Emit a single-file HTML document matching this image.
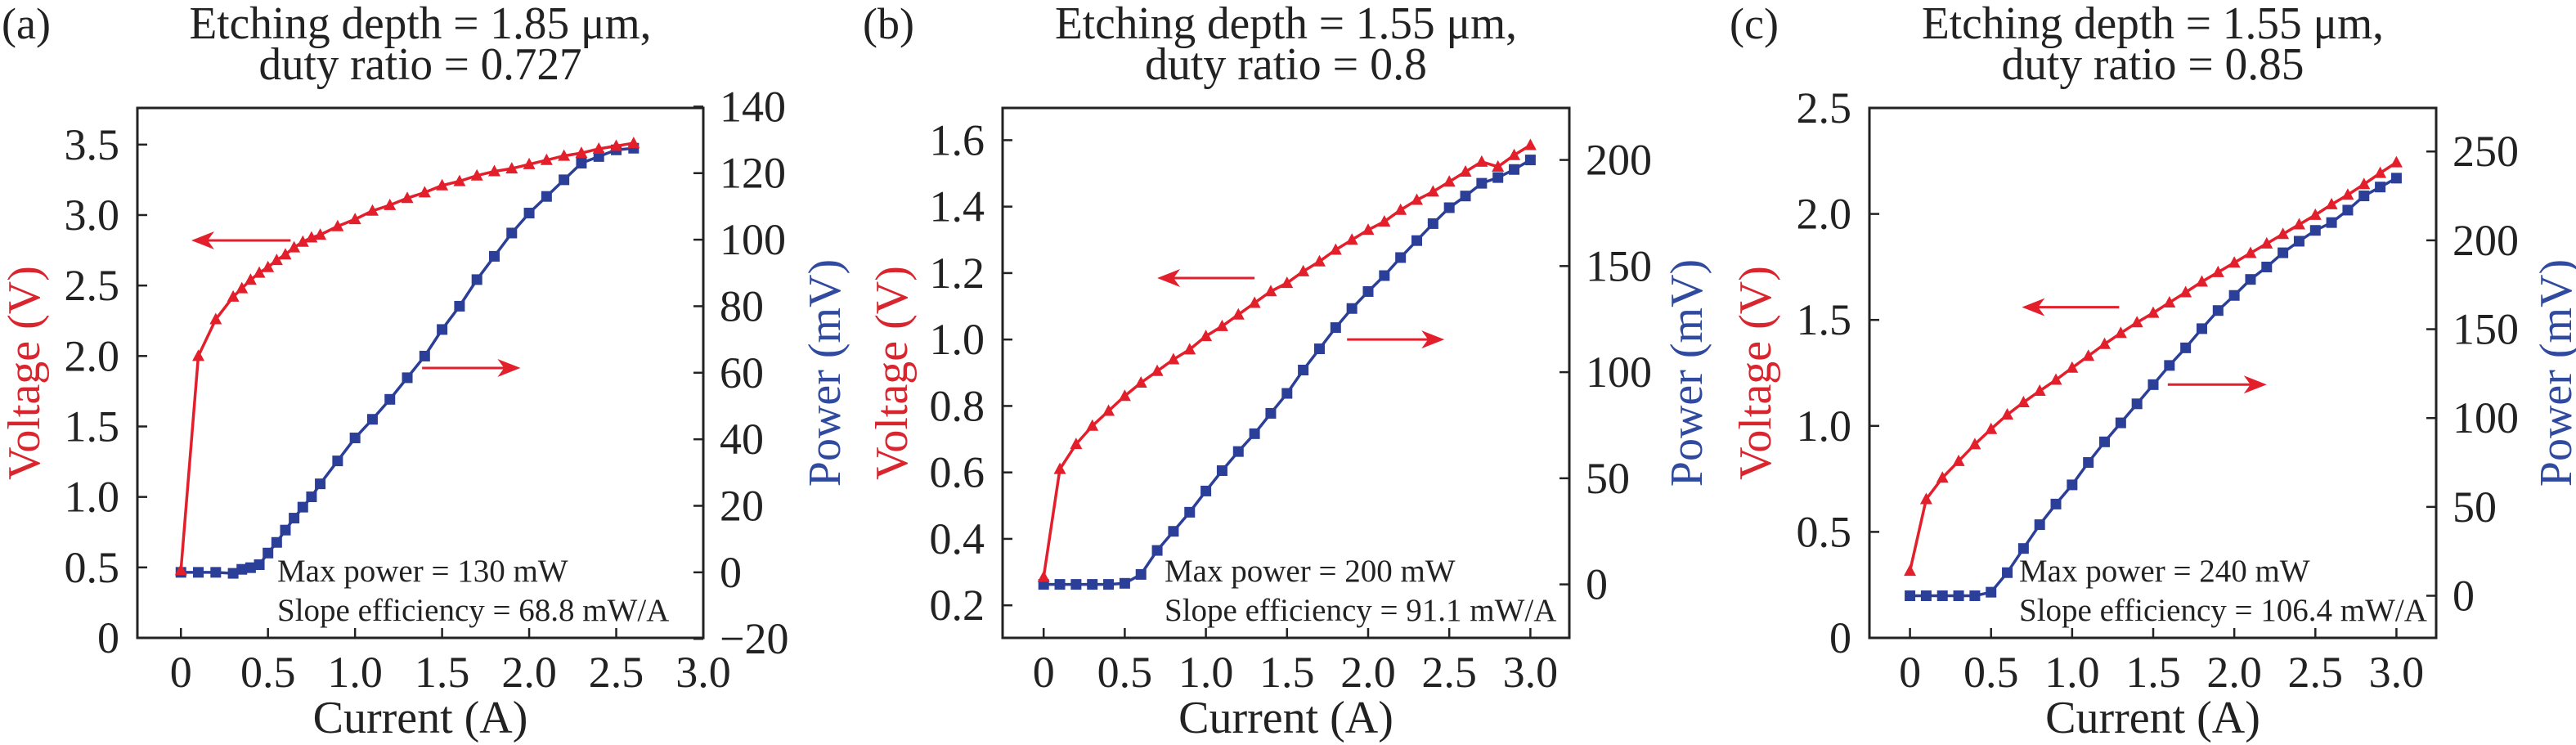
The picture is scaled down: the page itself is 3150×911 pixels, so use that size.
<!DOCTYPE html>
<html><head><meta charset="utf-8"><style>
html,body{margin:0;padding:0;background:#fff;}
svg{display:block;font-family:"Liberation Serif","DejaVu Serif",serif;}
svg text{font-family:"Liberation Serif","DejaVu Serif",serif;}
</style></head><body>
<svg id="fig" width="3150" height="911" viewBox="0 0 3150 911" xmlns="http://www.w3.org/2000/svg" font-family="Liberation Serif, serif"></svg>
<script>
// ---- Panel (a) data ----
const aCurrentV = [0,0.1,0.2,0.3,0.35,0.4,0.45,0.5,0.55,0.6,0.65,0.7,0.75,0.8,0.9,1.0,1.1,1.2,1.3,1.4,1.5,1.6,1.7,1.8,1.9,2.0,2.1,2.2,2.3,2.4,2.5,2.6];
const aVoltage  = [0.48,2.0,2.26,2.42,2.48,2.54,2.59,2.63,2.68,2.72,2.77,2.81,2.84,2.86,2.92,2.97,3.03,3.07,3.12,3.16,3.21,3.24,3.28,3.31,3.33,3.36,3.39,3.42,3.44,3.47,3.49,3.51];
const aCurrentP = [0,0.1,0.2,0.3,0.35,0.4,0.45,0.5,0.55,0.6,0.65,0.7,0.75,0.8,0.9,1.0,1.1,1.2,1.3,1.4,1.5,1.6,1.7,1.8,1.9,2.0,2.1,2.2,2.3,2.4,2.5,2.6];
const aPower    = [0,0,0,-0.3,0.9,1.4,2.3,5.8,9,12.7,16.3,19.6,22.7,26.6,33.5,40.4,46,52,58.5,65,73,80,88,95,102,108,113,118,123,125,127,127.5];
// ---- Panel (b) data ----
const bCurrent = [0,0.1,0.2,0.3,0.4,0.5,0.6,0.7,0.8,0.9,1.0,1.1,1.2,1.3,1.4,1.5,1.6,1.7,1.8,1.9,2.0,2.1,2.2,2.3,2.4,2.5,2.6,2.7,2.8,2.9,3.0];
const bVoltage = [0.285,0.61,0.685,0.74,0.785,0.83,0.87,0.905,0.94,0.97,1.01,1.04,1.075,1.11,1.145,1.17,1.205,1.235,1.27,1.30,1.33,1.355,1.39,1.42,1.445,1.475,1.505,1.535,1.52,1.555,1.585];
const bPower   = [0,0,0,0,0,0.5,4.7,16,25,34,44,53.6,62.6,71,80.6,90,101,111,121,130,138,145.5,154,162,170,177.5,183,189,191.7,195.5,200];
// ---- Panel (c) data ----
const cCurrent = [0,0.1,0.2,0.3,0.4,0.5,0.6,0.7,0.8,0.9,1.0,1.1,1.2,1.3,1.4,1.5,1.6,1.7,1.8,1.9,2.0,2.1,2.2,2.3,2.4,2.5,2.6,2.7,2.8,2.9,3.0];
const cVoltage = [0.316,0.654,0.755,0.834,0.913,0.985,1.053,1.111,1.165,1.217,1.274,1.33,1.386,1.438,1.488,1.533,1.582,1.63,1.68,1.725,1.77,1.815,1.86,1.905,1.95,1.995,2.045,2.09,2.14,2.193,2.243];
const cPower   = [0,0,0,0,0,2,13,26.6,40,51.6,62.4,75,86.6,97.3,108,118.8,129.6,139.5,150.3,160.5,169,178,185,193,199.5,205.6,210,217,225,230,235];
// ---- Tick labels ----
const xTicks = [0,0.5,1.0,1.5,2.0,2.5,3.0];
const xTickLabels = ["0","0.5","1.0","1.5","2.0","2.5","3.0"];
const aLeftTicks = [0,0.5,1.0,1.5,2.0,2.5,3.0,3.5];
const aLeftLabels = ["0","0.5","1.0","1.5","2.0","2.5","3.0","3.5"];
const aRightTicks = [-20,0,20,40,60,80,100,120,140];
const aRightLabels = ["\u221220","0","20","40","60","80","100","120","140"];
const bLeftTicks = [0.2,0.4,0.6,0.8,1.0,1.2,1.4,1.6];
const bLeftLabels = ["0.2","0.4","0.6","0.8","1.0","1.2","1.4","1.6"];
const bRightTicks = [0,50,100,150,200];
const bRightLabels = ["0","50","100","150","200"];
const cLeftTicks = [0,0.5,1.0,1.5,2.0,2.5];
const cLeftLabels = ["0","0.5","1.0","1.5","2.0","2.5"];
const cRightTicks = [0,50,100,150,200,250];
const cRightLabels = ["0","50","100","150","200","250"];

const NS="http://www.w3.org/2000/svg";
const svg=document.getElementById('fig');
const RED="#e21f2b", BLUE="#2b3f98";
const FF="Liberation Serif, DejaVu Serif, serif";
function mk(tag,attrs,parent){const e=document.createElementNS(NS,tag);for(const k in attrs)e.setAttribute(k,attrs[k]);if(tag==='text')e.setAttribute('font-family',FF);(parent||svg).appendChild(e);return e;}

const panels=[
 {id:'a',letter:'(a)',lx:2,title1:'Etching depth = 1.85 \u03bcm,',title2:'duty ratio = 0.727',t2w:395,
  L:168,R:860,xd:[-0.25,3.0],yd:[0,3.76],rd:[-19.7,139.6],
  xV:aCurrentV,V:aVoltage,xP:aCurrentP,P:aPower,lt:aLeftTicks,ll:aLeftLabels,rt:aRightTicks,rl:aRightLabels,
  arrL:[0.63,0.06,2.82],arrR:[1.385,1.95,1.915],ann:[339,'Max power = 130 mW','Slope efficiency = 68.8 mW/A'],vlx:30,plx:1009},
 {id:'b',letter:'(b)',lx:1055,title1:'Etching depth = 1.55 \u03bcm,',title2:'duty ratio = 0.8',t2w:345,
  L:1226,R:1919,xd:[-0.253,3.24],yd:[0.102,1.697],rd:[-25.2,224.5],
  xV:bCurrent,V:bVoltage,xP:bCurrent,P:bPower,lt:bLeftTicks,ll:bLeftLabels,rt:bRightTicks,rl:bRightLabels,
  arrL:[1.30,0.70,1.185],arrR:[1.87,2.47,1.0],ann:[1424,'Max power = 200 mW','Slope efficiency = 91.1 mW/A'],vlx:1091,plx:2063},
 {id:'c',letter:'(c)',lx:2115,title1:'Etching depth = 1.55 \u03bcm,',title2:'duty ratio = 0.85',t2w:370,
  L:2286,R:2979,xd:[-0.25,3.245],yd:[0,2.5],rd:[-23.7,274.5],
  xV:cCurrent,V:cVoltage,xP:cCurrent,P:cPower,lt:cLeftTicks,ll:cLeftLabels,rt:cRightTicks,rl:cRightLabels,
  arrL:[1.29,0.69,1.56],arrR:[1.59,2.20,1.195],ann:[2469,'Max power = 240 mW','Slope efficiency = 106.4 mW/A'],vlx:2147,plx:3126}
];
const T=132,B=780;

panels.forEach(p=>{
  const g=mk('g',{});
  
  
  const sx=v=>p.L+(v-p.xd[0])/(p.xd[1]-p.xd[0])*(p.R-p.L);
  const sy=v=>B-(v-p.yd[0])/(p.yd[1]-p.yd[0])*(B-T);
  const sr=v=>B-(v-p.rd[0])/(p.rd[1]-p.rd[0])*(B-T);
  const cx=(p.L+p.R)/2;
  let t=mk('text',{x:p.lx,y:47,'font-size':54,fill:'#222'},g);t.textContent=p.letter;
  
  
  t=mk('text',{x:cx,y:47,'font-size':56,fill:'#222','text-anchor':'middle',textLength:565,lengthAdjust:'spacingAndGlyphs'},g);t.textContent=p.title1;
  
  
  t=mk('text',{x:cx,y:97,'font-size':56,fill:'#222','text-anchor':'middle',textLength:p.t2w,lengthAdjust:'spacingAndGlyphs'},g);t.textContent=p.title2;
  
  
  // ticks
  xTicks.forEach((v,i)=>{
    const x=sx(v);
    mk('line',{x1:x,x2:x,y1:B,y2:B-12,stroke:'#222','stroke-width':2.5},g);
    const tl=mk('text',{x:x,y:840,'font-size':54,fill:'#222','text-anchor':'middle'},g);tl.textContent=xTickLabels[i];
    
    
  });
  p.lt.forEach((v,i)=>{
    const y=sy(v);
    mk('line',{x1:p.L,x2:p.L+12,y1:y,y2:y,stroke:'#222','stroke-width':2.5},g);
    const tl=mk('text',{x:p.L-22,y:y+18,'font-size':54,fill:'#222','text-anchor':'end'},g);tl.textContent=p.ll[i];
    
    
  });
  p.rt.forEach((v,i)=>{
    const y=sr(v);
    mk('line',{x1:p.R-12,x2:p.R,y1:y,y2:y,stroke:'#222','stroke-width':2.5},g);
    const tl=mk('text',{x:p.R+20,y:y+18,'font-size':54,fill:'#222'},g);tl.textContent=p.rl[i];
    
    
  });
  const box=mk('rect',{x:p.L,y:T,width:p.R-p.L,height:B-T,fill:'none',stroke:'#222','stroke-width':3},g);
  
  
  // axis titles
  t=mk('text',{x:cx,y:896,'font-size':56,fill:'#222','text-anchor':'middle'},g);t.textContent='Current (A)';
  
  
  t=mk('text',{x:0,y:0,'font-size':56,fill:'#d9252e','text-anchor':'middle',transform:`translate(${p.vlx+18},456) rotate(-90)`},g);t.textContent='Voltage (V)';
  
  
  t=mk('text',{x:0,y:0,'font-size':56,fill:'#2f4a9e','text-anchor':'middle',transform:`translate(${p.plx+18},456) rotate(-90)`},g);t.textContent='Power (mV)';
  
  
  // series
  const vp=p.xV.map((x,i)=>sx(x)+','+sy(p.V[i])).join(' ');
  const pp=p.xP.map((x,i)=>sx(x)+','+sr(p.P[i])).join(' ');
  let l=mk('polyline',{points:pp,fill:'none',stroke:BLUE,'stroke-width':3.5},g);
  
  
  p.xP.forEach((x,i)=>{
    const m=mk('rect',{x:sx(x)-6.5,y:sr(p.P[i])-6.5,width:13,height:13,fill:BLUE},g);
    
    
  });
  l=mk('polyline',{points:vp,fill:'none',stroke:RED,'stroke-width':3.5},g);
  
  
  p.xV.forEach((x,i)=>{
    const X=sx(x),Y=sy(p.V[i]);
    const m=mk('polygon',{points:`${X},${Y-8} ${X+7.5},${Y+6} ${X-7.5},${Y+6}`,fill:RED},g);
    
    
  });
  // arrows
  [[p.arrL,'left-arrow'],[p.arrR,'right-arrow']].forEach(([a,n])=>{
    const x1=sx(a[0]),x2=sx(a[1]),y=sy(a[2]);
    const dir=x2>x1?1:-1;
    const ag=mk('g',{},g);
    
    
    mk('line',{x1:x1,x2:x2-dir*20,y1:y,y2:y,stroke:RED,'stroke-width':3},ag);
    mk('polygon',{points:`${x2},${y} ${x2-dir*28},${y-11} ${x2-dir*20},${y} ${x2-dir*28},${y+11}`,fill:RED},ag);
  });
  t=mk('text',{x:p.ann[0],y:711,'font-size':39,fill:'#222'},g);t.textContent=p.ann[1];
  
  
  t=mk('text',{x:p.ann[0],y:759,'font-size':39,fill:'#222'},g);t.textContent=p.ann[2];
  
  
});
</script>
</body></html>
